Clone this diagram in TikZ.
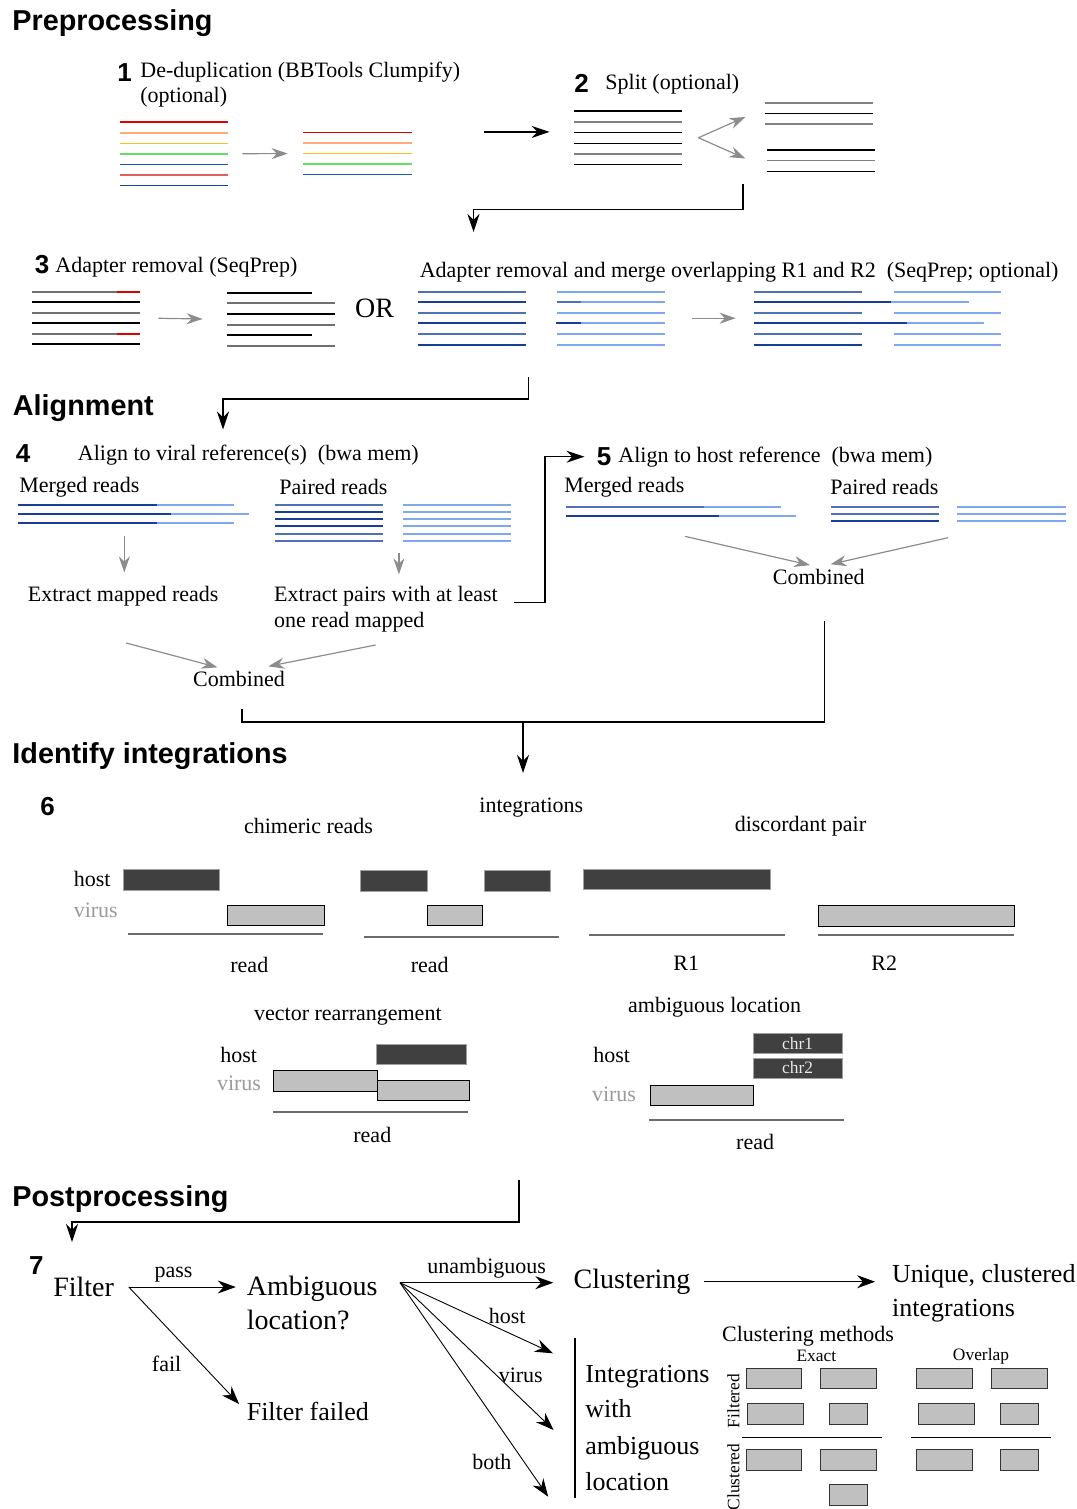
\documentclass[tikz,border=0pt]{standalone}
\usepackage{fontspec}
\setmainfont{Liberation Serif}
\setsansfont{Liberation Sans}
\usepackage{tikz}
\usetikzlibrary{positioning,calc,arrows.meta,fit}
\definecolor{cred}{HTML}{E00000}
\definecolor{corange}{HTML}{FFAA77}
\definecolor{cyellow}{HTML}{FFC020}
\definecolor{cgreen}{HTML}{66DD66}
\definecolor{cblue}{HTML}{2255BB}
\definecolor{csalmon}{HTML}{E06060}
\definecolor{cdblue}{HTML}{1144AA}
\definecolor{splitgray}{HTML}{808080}
\definecolor{adgray}{HTML}{707070}
\definecolor{mblue}{HTML}{5070B8}
\definecolor{dblue}{HTML}{1A3C9A}
\definecolor{lblue}{HTML}{7FA8F0}
\definecolor{garrow}{HTML}{8C8C8C}
\definecolor{hostgray}{HTML}{404040}
\definecolor{hostedge}{HTML}{A0A0A0}
\definecolor{virgray}{HTML}{C0C0C0}
\definecolor{readgray}{HTML}{6B6B6B}
\definecolor{virtxt}{HTML}{9A9A9A}
\definecolor{chrtxt}{HTML}{E8E8E8}

\begin{document}
\begin{tikzpicture}[x=0.5pt,y=-0.5pt,
    txt/.style={inner sep=0pt,anchor=west,font=\fontsize{11}{13.2}\selectfont},
    big/.style={inner sep=0pt,anchor=west,font=\fontsize{14}{17}\selectfont},
    mid/.style={inner sep=0pt,anchor=west,font=\fontsize{13}{16.7}\selectfont},
    small/.style={inner sep=0pt,font=\fontsize{8.7}{10}\selectfont},
    head/.style={inner sep=0pt,anchor=west,font=\sffamily\bfseries\fontsize{14.4}{17}\selectfont},
    num/.style={inner sep=0pt,anchor=west,font=\sffamily\bfseries\fontsize{13}{15}\selectfont},
    grp/.style={inner sep=0pt},
    gar/.style={-{Stealth[length=8pt,width=5.5pt]},draw=garrow,line width=0.6pt},
    bar/.style={-{Stealth[length=9pt,width=6pt]},line width=0.7pt},
    fine/.style={-{Stealth[length=9pt,width=6.5pt]},line width=0.45pt},
    hostbox/.style={draw=hostedge,fill=hostgray,line width=0.5pt},
    virbox/.style={draw=black,fill=virgray,line width=0.5pt},
    chrbox/.style={hostbox,inner sep=0pt,minimum width=44.4pt,minimum height=10pt,
      text=chrtxt,font=\fontsize{8.7}{10}\selectfont},
    rdline/.style={draw=readgray,line width=1pt},
    cbox/.style={draw=gray!40!black,fill=virgray,line width=0.5pt}]
\useasboundingbox (0,0) rectangle (1076,1509);

% Preprocessing
\node[head] (hpre) at (12,23) {Preprocessing};
\node[num] (n1) at (117,73) {1};
\node[txt,align=left,font=\fontsize{11}{12.5}\selectfont] (t1) at (140,84.5) {De-duplication (BBTools Clumpify)\\(optional)};
\foreach \yy/\cc/\ww in {122/cred/0.9,133/corange/1.3,143.5/cyellow/0.9,154/cgreen/1.3,164.5/cblue/0.9,175/csalmon/1.3,185.5/cdblue/0.9}
  \draw[\cc,line width=\ww pt] (120,\yy) -- (228,\yy);
\node[grp,fit={(120,122) (228,185.5)}] (dupA) {};
\foreach \yy/\cc/\ww in {132.5/cred/0.9,143/corange/1.3,153.5/cyellow/0.9,164/cgreen/1.3,174.5/cblue/0.9}
  \draw[\cc,line width=\ww pt] (303,\yy) -- (411.5,\yy);
\node[grp,fit={(303,132.5) (411.5,174.5)}] (dupB) {};
\draw[gar,shorten <=7pt,shorten >=7.5pt] (dupA.east) -- (dupB.west);

% split
\node[num] (n2) at (574,83) {2};
\node[txt] (t2) at (605,84) {Split (optional)};
\foreach \yy/\cc in {111/black,122/splitgray,132.5/black,143.5/black,154/splitgray,164.5/black}
  \draw[\cc,line width=0.9pt] (573.5,\yy) -- (682,\yy);
\node[grp,fit={(573.5,111) (682,164.5)}] (splA) {};
\foreach \yy/\cc in {103/splitgray,113.5/black,124/splitgray}
  \draw[\cc,line width=0.9pt] (764.5,\yy) -- (872.5,\yy);
\node[grp,fit={(764.5,103) (872.5,124)}] (splB) {};
\foreach \yy/\cc in {150/black,160.5/splitgray,171.5/black}
  \draw[\cc,line width=0.9pt] (766.5,\yy) -- (875,\yy);
\node[grp,fit={(766.5,150) (875,171.5)}] (splC) {};
\draw[bar] ([xshift=-44.75pt,yshift=2.9pt]splA.west) -- ([xshift=-11.75pt,yshift=2.9pt]splA.west);
\coordinate (fork0) at ([xshift=8pt]splA.east);
\draw[gar] (fork0) -- ([xshift=-9.3pt,yshift=-1.7pt]splB.west);
\draw[gar] (fork0) -- ([xshift=-10.3pt,yshift=1.1pt]splC.west);
\coordinate (in3) at (473.5,232);
\draw[bar] ([xshift=-11.5pt,yshift=-6pt]splC.south west) -- ++(0,25.5) -| (in3);

% adapter removal
\node[num] (n3) at (34.5,265) {3};
\node[txt] (t3) at (55,267.5) {Adapter removal (SeqPrep)};
\foreach \yy/\cc in {291.7/adgray,302.3/black,312.7/adgray,323.3/black,334/adgray,344.3/black}
  \draw[\cc,line width=0.9pt] (32,\yy) -- (140,\yy);
\draw[cred,line width=0.9pt] (117,291.7) -- (140,291.7) (117,334) -- (140,334);
\node[grp,fit={(32,291.7) (140,344.3)}] (adA) {};
\foreach \yy/\cc/\xe in {292.7/black/311.6,303.3/adgray/334.7,314/black/334.7,324.7/adgray/334.7,335.3/black/311.6,346/adgray/334.7}
  \draw[\cc,line width=0.9pt] (226.6,\yy) -- (\xe,\yy);
\node[grp,fit={(226.6,292.7) (334.7,346)}] (adB) {};
\draw[gar,shorten <=9pt,shorten >=11.8pt] (adA.east) -- (adB.west);
\node[big] (or) at (354.7,308.3) {OR};

% adapter removal and merge
\node[txt] (t3b) at (419.4,272) {Adapter removal and merge overlapping R1 and R2~ (SeqPrep; optional)};
\foreach \yy/\cc in {291.7/mblue,302.3/dblue,312.7/mblue,323.3/dblue,334/mblue,344.7/dblue}
  \draw[\cc,line width=0.9pt] (418,\yy) -- (526.3,\yy);
\node[grp,fit={(418,291.7) (526.3,344.7)}] (mgA) {};
\foreach \yy in {291.7,302.3,312.7,323.3,334,344.7}
  \draw[lblue,line width=0.9pt] (557,\yy) -- (665,\yy);
\draw[mblue,line width=0.9pt] (557,302.3) -- (581,302.3);
\draw[dblue,line width=0.9pt] (556,323.3) -- (581,323.3);
\node[grp,fit={(557,291.7) (665,344.7)}] (mgB) {};
\foreach \yy/\cc/\xa/\xb/\xc in {291.7/mblue/862/893.6/1001,302.3/dblue/891.4/891.4/969,312.7/mblue/862/893.6/1001,
    323.3/dblue/906.5/906.5/984,334/mblue/862/893.6/1001,344.7/dblue/862/893.6/1001}{
  \draw[\cc,line width=0.9pt] (753.5,\yy) -- (\xa,\yy);
  \draw[lblue,line width=0.9pt] (\xb,\yy) -- (\xc,\yy);}
\node[grp,fit={(753.5,291.7) (1001,344.7)}] (mgC) {};
\draw[gar,shorten <=13.5pt,shorten >=8.75pt] (mgB.east) -- (mgC.west);
\coordinate (in4) at (223,429.5);
\draw[bar] ([xshift=1pt,yshift=-16pt]mgA.south east) -- ++(0,22) -| (in4);

% Alignment
\node[head] (hali) at (12.5,408) {Alignment};
\node[num] (n4) at (15.5,454) {4};
\node[txt] (t4) at (77.5,455) {Align to viral reference(s)~ (bwa mem)};
\node[txt] (vmr) at (19,487) {Merged reads};
\node[txt] (vpr) at (279,487) {Paired reads};
\foreach \yy/\xa/\xb in {505/156.7/233.5,514.3/171/248.6,523.3/156.7/233.5}{
  \draw[dblue,line width=0.9pt] (18,\yy) -- (\xa,\yy);
  \draw[lblue,line width=0.9pt] (\xa,\yy) -- (\xb,\yy);}
\node[grp,fit={(18,505) (248.6,523.3)}] (vmg) {};
\foreach \yy/\cc in {505/mblue,512/dblue,519/dblue,526.3/dblue,533.7/mblue,540.7/mblue}
  \draw[\cc,line width=1pt] (275,\yy) -- (382.7,\yy);
\node[grp,fit={(275,505) (382.7,540.7)}] (vpA) {};
\foreach \yy in {505,512,519,526.3,533.7,540.7}
  \draw[lblue,line width=1pt] (403.3,\yy) -- (511,\yy);
\node[grp,fit={(403.3,505) (511,540.7)}] (vpB) {};
\draw[gar] ([xshift=-4.5pt,yshift=-6pt]vmg.south) -- ++(0,36.7);
\draw[gar] ([xshift=-2pt,yshift=-6pt]vpB.south west) -- ++(0,21.3);
\node[txt] (extM) at (27.5,596) {Extract mapped reads};
\node[txt,align=left] (extP) at (273.8,609) {Extract pairs with at least\\one read mapped};
\node[txt] (comb4) at (192.8,678.5) {Combined};
\draw[gar] ([xshift=1.5pt,yshift=-18.3pt]extM.south) -- ([xshift=12.4pt,yshift=1.5pt]comb4.north west);
\draw[gar] ([xshift=-5.2pt,yshift=-6.2pt]extP.south) -- ([xshift=-8.5pt,yshift=2pt]comb4.north east);

% host alignment
\node[num] (n5) at (596.4,456.7) {5};
\node[txt] (t5) at (618,456.7) {Align to host reference~ (bwa mem)};
\draw[bar] ([xshift=8pt,yshift=-8.5pt]extP.north east) -- ++(31,0) |- ([xshift=-6pt]n5.west);
\node[txt] (hmr) at (564,487.3) {Merged reads};
\node[txt] (hpr) at (830,487.3) {Paired reads};
\foreach \yy/\cc/\xa/\xb in {506.7/mblue/704/781,516/dblue/718.5/795.7}{
  \draw[\cc,line width=0.9pt] (565.6,\yy) -- (\xa,\yy);
  \draw[lblue,line width=0.9pt] (\xa,\yy) -- (\xb,\yy);}
\node[grp,fit={(565.6,506.7) (795.7,516)}] (hmg) {};
\foreach \yy/\cc in {506.7/mblue,513.7/mblue,520.7/dblue}
  \draw[\cc,line width=1pt] (831,\yy) -- (939,\yy);
\node[grp,fit={(831,506.7) (939,520.7)}] (hpA) {};
\foreach \yy in {506.7,513.7,520.7}
  \draw[lblue,line width=1pt] (957,\yy) -- (1065.5,\yy);
\node[grp,fit={(957,506.7) (1065.5,520.7)}] (hpB) {};
\node[txt] (comb5) at (772.5,577) {Combined};
\draw[gar] ([xshift=2.3pt,yshift=-10pt]hmg.south) -- ([xshift=18.75pt,yshift=1.85pt]comb5.north west);
\draw[gar] ([xshift=-4.25pt,yshift=-8.3pt]hpB.south west) -- ([xshift=29pt,yshift=2.3pt]comb5.north west);
\coordinate (join6) at (523,722);
\draw[line width=0.7pt] ([xshift=3pt,yshift=-18pt]comb5.south) |- (join6);
\draw[line width=0.7pt] ([xshift=1.5pt,yshift=-11pt]comb4.south) |- (join6);
\draw[bar] (join6) -- ++(0,51);

% Identify integrations
\node[head] (hint) at (12,756) {Identify integrations};
\node[num] (n6) at (40,807) {6};
\node[txt] (chim) at (243.7,826) {chimeric reads};
\node[txt] (intg) at (479,807.5) {integrations};
\node[txt] (disc) at (734.4,826) {discordant pair};
\node[txt] (lh1) at (73.4,879) {host};
\node[txt,text=virtxt] (lv1) at (73.4,910) {virus};
\draw[hostbox] (123.5,869.3) rectangle (219.6,890);
\draw[hostbox] (360.3,870.7) rectangle (427,891.7);
\draw[hostbox] (484.6,870.7) rectangle (550.4,891.7);
\draw[hostbox] (583.4,869.3) rectangle (770,889.3);
\draw[virbox] (227.9,905) rectangle (324,925.7);
\draw[virbox] (427,905) rectangle (482.5,925.7);
\draw[virbox] (818,905) rectangle (1014.4,926);
\draw[rdline] (127.7,934.3) -- (322.6,934.3);
\draw[rdline] (363.8,936.7) -- (559.4,936.7);
\draw[rdline] (589,934.7) -- (784.5,934.7);
\draw[rdline] (818,934.7) -- (1014.4,934.7);
\node[txt] (rd1) at (230,965) {read};
\node[txt] (rd2) at (410.4,965) {read};
\node[txt] (r1) at (673,963) {R1};
\node[txt] (r2) at (871,963) {R2};

% vector rearrangement
\node[txt] (vec) at (253.7,1017) {vector rearrangement};
\node[txt] (lh2) at (220,1055) {host};
\node[txt,text=virtxt] (lv2) at (216.6,1083) {virus};
\draw[hostbox] (376.4,1044.3) rectangle (466.6,1064);
\draw[virbox] (273.8,1070.7) rectangle (377.3,1091.7);
\draw[virbox] (377.3,1080) rectangle (469.3,1100.7);
\draw[rdline] (272.9,1112) -- (468,1112);
\node[txt] (rd3) at (353,1135) {read};

% ambiguous location
\node[txt] (amb) at (627.8,1007) {ambiguous location};
\node[txt] (lh3) at (593,1055) {host};
\node[txt,text=virtxt] (lv3) at (591.6,1094) {virus};
\node[chrbox] (chr1) at (797.6,1043.3) {chr1};
\node[chrbox] (chr2) at (797.6,1068) {chr2};
\draw[virbox] (650,1085) rectangle (753.2,1105);
\draw[rdline] (648.8,1120) -- (844.3,1120);
\node[txt] (rd4) at (735.8,1141.7) {read};

% Postprocessing
\node[head] (hpost) at (12,1199.5) {Postprocessing};
\coordinate (out6) at (519,1180);
\coordinate (in7) at (72,1242);
\draw[bar] (out6) -- ++(0,42) -| (in7);
\node[num] (n7) at (28.6,1266) {7};
\node[big] (filt) at (52.9,1287) {Filter};
\coordinate (fork1) at ([xshift=7.2pt]filt.east);
\node[big,align=left] (ambq) at (246.4,1303) {Ambiguous\\location?};
\node[mid] (ffail) at (246.4,1411.7) {Filter failed};
\draw[fine,shorten >=5.3pt] (fork1) -- (fork1 -| ambq.west) node[txt,anchor=south,pos=0.38,above=2pt] {pass};
\draw[fine,shorten >=5.3pt] (fork1) -- (ffail.west) node[txt,anchor=east,pos=0.62,left=10pt] {fail};
\coordinate (fork2) at (400,1282.7);
\node[big] (clus) at (573.3,1281.7) {Clustering};
\coordinate (hostin) at (553,1353.3);
\coordinate (virin) at (553.6,1430);
\coordinate (bothin) at (548.2,1496.7);
\draw[fine,shorten >=10pt] (fork2) -- (fork2 -| clus.west) node[txt,pos=0.5,above=2pt] {unambiguous};
\draw[fine] (fork2) -- (hostin) node[txt,anchor=south,pos=0.7,above=4pt] {host};
\draw[fine] (fork2) -- (virin) node[txt,anchor=west,pos=0.627,right=1pt] {virus};
\draw[fine] (fork2) -- (bothin) node[txt,anchor=east,pos=0.836,left=6pt] {both};
\node[mid,align=left] (uniq) at (891.7,1293.3) {Unique, clustered\\integrations};
\draw[fine,shorten <=6.7pt,shorten >=8.3pt] (clus.east) -- (clus.east -| uniq.west);
\node[mid,align=left,font=\fontsize{13}{18}\selectfont] (ambi) at (585,1427.5) {Integrations\\with\\ambiguous\\location};
\draw[line width=0.6pt] (575,1338.3) -- (575,1498.3);

% clustering methods
\node[txt] (cmeth) at (721.7,1336.7) {Clustering methods};
\node[small] (exact) at (816.3,1356) {Exact};
\node[small] (ovl) at (981,1356) {Overlap};
\node[small,rotate=90] (filtd) at (733.3,1401) {Filtered};
\node[small,rotate=90] (clusd) at (733.3,1477) {Clustered};
\draw[cbox] (746,1368.3) rectangle (801.7,1388.3);
\draw[cbox] (820.7,1368.3) rectangle (876.7,1388.3);
\draw[cbox] (747.3,1403.3) rectangle (803.3,1424.3);
\draw[cbox] (829.3,1403.3) rectangle (867.3,1424.3);
\draw[line width=0.6pt] (741.7,1437.3) -- (881.7,1437.3);
\draw[cbox] (746,1449.3) rectangle (801.7,1470);
\draw[cbox] (820.7,1449.3) rectangle (876.7,1470);
\draw[cbox] (829.3,1484.3) rectangle (867.3,1505);
\draw[cbox] (916.7,1368.3) rectangle (972.7,1388.3);
\draw[cbox] (991.7,1368.3) rectangle (1047.3,1388.3);
\draw[cbox] (918.3,1403.3) rectangle (974.3,1424.3);
\draw[cbox] (1000,1403.3) rectangle (1038.3,1424.3);
\draw[line width=0.6pt] (911,1437.3) -- (1050.7,1437.3);
\draw[cbox] (916.7,1449.3) rectangle (972.7,1470);
\draw[cbox] (1000,1449.3) rectangle (1038.3,1470);

\end{tikzpicture}
\end{document}
